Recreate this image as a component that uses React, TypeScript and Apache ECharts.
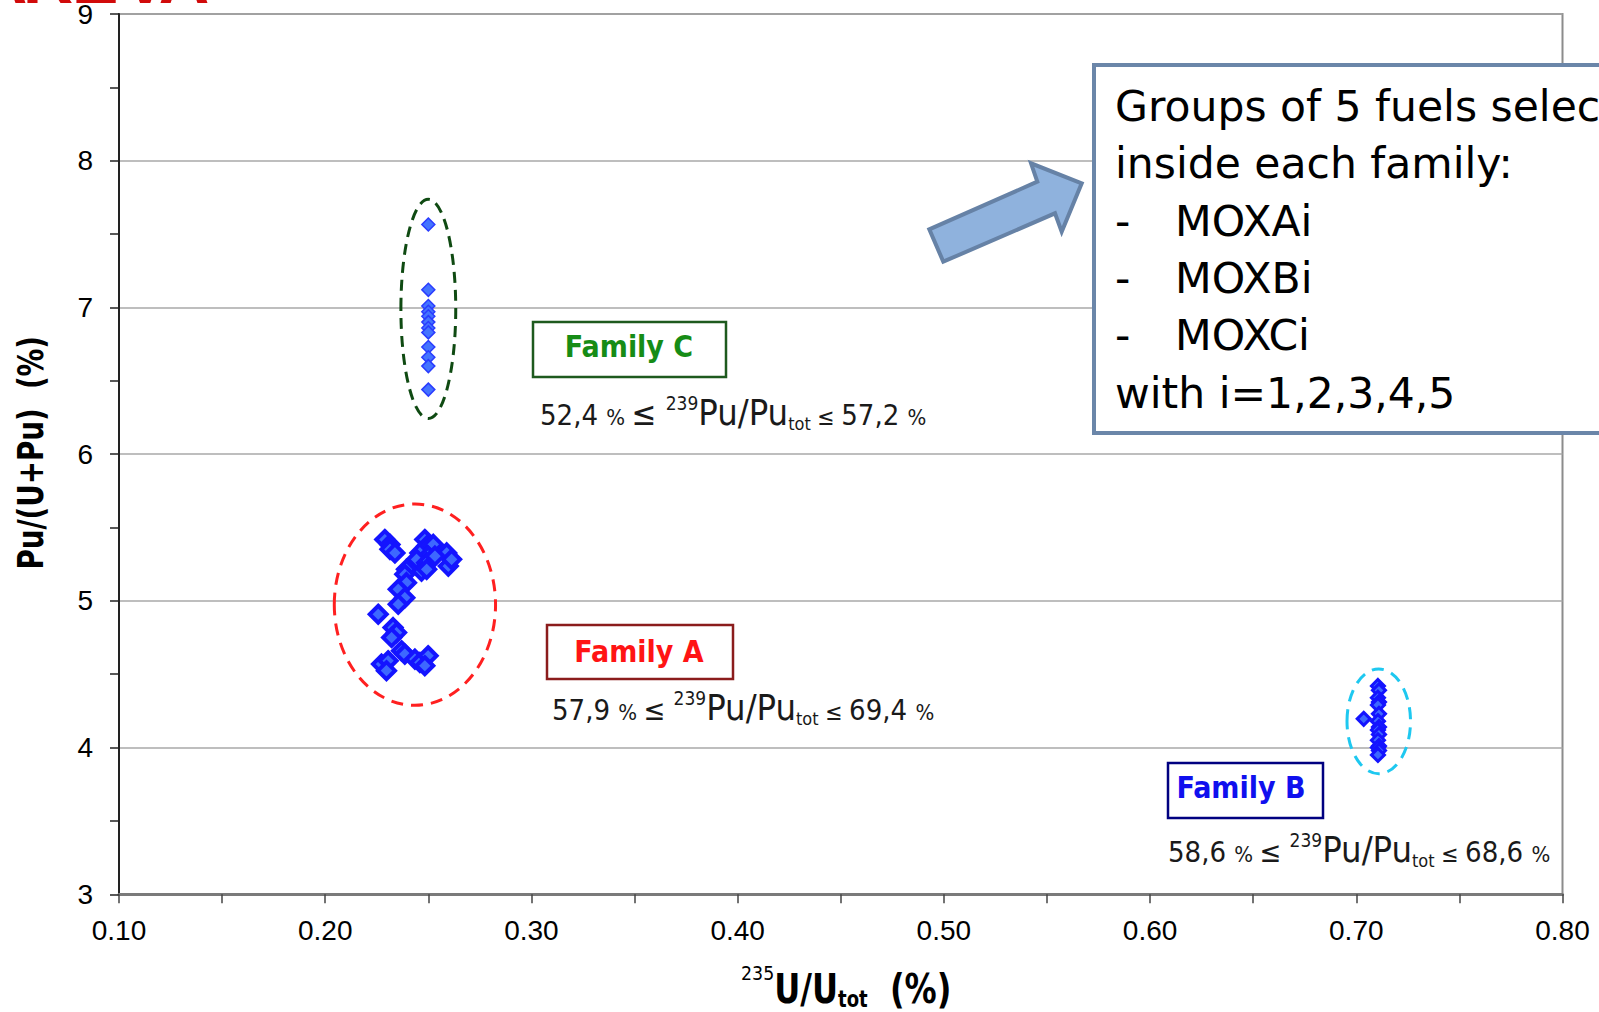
import React, { useEffect, useRef } from "react";
import * as echarts from "echarts";

// ---- data ----
const xTickLabels = ["0.10", "0.20", "0.30", "0.40", "0.50", "0.60", "0.70", "0.80"];
const yTickLabels = ["3", "4", "5", "6", "7", "8", "9"];

const familyA: number[][] = [
  [0.2289, 5.418], [0.2314, 5.385], [0.2314, 5.351], [0.2338, 5.327],
  [0.2483, 5.418], [0.2492, 5.373], [0.2459, 5.327], [0.2524, 5.385],
  [0.2499, 5.305], [0.2443, 5.283], [0.2492, 5.26], [0.2589, 5.327],
  [0.2597, 5.237], [0.2613, 5.283], [0.2467, 5.203], [0.2492, 5.215],
  [0.2532, 5.305], [0.2394, 5.215], [0.2386, 5.181], [0.2394, 5.124],
  [0.2354, 5.079], [0.2386, 5.022], [0.2354, 4.977], [0.2257, 4.909],
  [0.2329, 4.818], [0.2346, 4.784], [0.2322, 4.75], [0.237, 4.66],
  [0.2386, 4.637], [0.2435, 4.603], [0.2459, 4.58], [0.2499, 4.626],
  [0.2483, 4.558], [0.2273, 4.569], [0.2305, 4.592], [0.2297, 4.524],
];

const familyB: number[][] = [
  [0.7105, 4.42], [0.711, 4.39], [0.7105, 4.34], [0.711, 4.31], [0.7105, 4.29],
  [0.711, 4.23], [0.7105, 4.18], [0.711, 4.14], [0.7105, 4.12], [0.711, 4.09],
  [0.7105, 4.05], [0.711, 4.01], [0.7105, 4.0], [0.711, 3.98], [0.7105, 3.95],
  [0.7036, 4.196],
];

const familyC: number[][] = [
  [0.25, 7.565], [0.25, 7.12], [0.25, 7.01], [0.25, 6.97], [0.25, 6.94],
  [0.25, 6.9], [0.25, 6.86], [0.25, 6.83], [0.25, 6.73], [0.25, 6.66],
  [0.25, 6.6], [0.25, 6.44],
];

// ellipse: [centerX, centerY, radiusX, radiusY] in data units
const ellipseA = [0.2435, 4.974, 0.0391, 0.686];
const ellipseB = [0.7109, 4.179, 0.0154, 0.357];
const ellipseC = [0.25, 6.99, 0.0133, 0.747];

const boxLines = [
  "Groups of 5 fuels selected",
  "inside each family:",
  "MOXAi",
  "MOXBi",
  "MOXCi",
  "with i=1,2,3,4,5",
];

const formulaC = ["52,4", "57,2"];
const formulaA = ["57,9", "69,4"];
const formulaB = ["58,6", "68,6"];

const COND = '"DejaVu Sans Condensed", "DejaVu Sans", sans-serif';
const SANS = '"DejaVu Sans", sans-serif';
const ARIAL = '"Liberation Sans", Arial, sans-serif';

const PU = 36;

function pad(s: number, raise: number, ref: number) {
  const d = 2 * (0.346 * ref - 0.346 * s - raise);
  return d >= 0 ? [d, 0, 0, 0] : [0, 0, -d, 0];
}

function formulaRich(bigLe: number) {
  const base = { fontFamily: COND, fill: "#1a1a1a" };
  return {
    n: { ...base, fontSize: 29, padding: pad(29, 0, PU) },
    p: { ...base, fontSize: 22, padding: pad(22, 0, PU) },
    le1: { ...base, fontSize: bigLe, padding: pad(bigLe, 0, PU) },
    le2: { ...base, fontSize: 23, padding: pad(23, 0, PU) },
    sup: { ...base, fontSize: 19, padding: pad(19, 15, PU) },
    pu: { ...base, fontSize: PU, padding: [0, 0, 0, 0] },
    sub: { ...base, fontSize: 18, padding: pad(18, -5, PU) },
  };
}

function formulaText(vals: string[]) {
  return `{n|${vals[0]} }{p|% }{le1|≤ }{sup|239}{pu|Pu/Pu}{sub|tot}{le2| ≤ }{n|${vals[1]} }{p|%}`;
}

function ellipseSeries(vals: number[], color: string, dash: number[]) {
  return {
    type: "custom",
    coordinateSystem: "cartesian2d",
    silent: true,
    z: 1,
    data: [vals],
    renderItem: (params: any, api: any) => {
      const c = api.coord([api.value(0), api.value(1)]);
      const s = api.size([api.value(2), api.value(3)]);
      return {
        type: "ellipse",
        shape: { cx: c[0], cy: c[1], rx: s[0], ry: s[1] },
        style: { fill: "none", stroke: color, lineWidth: 3, lineDash: dash },
      };
    },
  };
}

function familyBox(x: number, y: number, w: number, h: number, tx: number, ty: number, label: string, border: string, color: string) {
  return {
    type: "group",
    z: 50,
    children: [
      { type: "rect", shape: { x, y, width: w, height: h }, style: { fill: "#fff", stroke: border, lineWidth: 2.5 } },
      {
        type: "text",
        x: tx,
        y: ty,
        style: { text: label, fontSize: 30, fontWeight: "bold", fontFamily: COND, fill: color, align: "center", verticalAlign: "middle" },
      },
    ],
  };
}

export default function App() {
  const ref = useRef<HTMLDivElement>(null);

  useEffect(() => {
    document.body.style.margin = "0";
    if (!ref.current) return;
    const chart = echarts.init(ref.current, undefined, { renderer: "svg" });

    const BOXF = 42.5;
    const boxBaselines = [121.7, 178.3, 236.7, 293.3, 350, 408.3];
    const boxTexts: any[] = boxLines.map((t, i) => {
      const isItem = i >= 2 && i <= 4;
      return {
        type: "text",
        x: isItem ? 1175 : 1115,
        y: boxBaselines[i] - 0.346 * BOXF,
        z: 61,
        style: { text: t, fontSize: BOXF, fontFamily: SANS, fill: "#000", align: "left", verticalAlign: "middle" },
      };
    });
    [2, 3, 4].forEach((i) => {
      boxTexts.push({
        type: "text",
        x: 1115,
        y: boxBaselines[i] - 0.346 * BOXF,
        z: 61,
        style: { text: "-", fontSize: BOXF, fontFamily: SANS, fill: "#000", align: "left", verticalAlign: "middle" },
      });
    });

    const logoLetters = ["A", "R", "E", "V", "A"];
    const logoX = [2, 48, 95, 145, 184];

    const XT = 41;
    const XB = 1003;

    const option: any = {
      animation: false,
      backgroundColor: "#fff",
      grid: {
        left: 119,
        top: 11,
        right: 36.5,
        bottom: 117.7,
        show: true,
        borderColor: "#8c8c8c",
        borderWidth: 2,
        backgroundColor: "#fff",
      },
      xAxis: {
        type: "value",
        min: 0.1,
        max: 0.8,
        interval: 0.1,
        axisLine: { show: true, onZero: false, lineStyle: { color: "#7a7a7a", width: 3 } },
        axisTick: { show: true, length: 9, lineStyle: { color: "#444", width: 1.5 } },
        minorTick: { show: true, splitNumber: 2, length: 9, lineStyle: { color: "#444", width: 1.5 } },
        splitLine: { show: false },
        axisLabel: {
          fontSize: 28,
          fontFamily: ARIAL,
          color: "#000",
          margin: 22,
          formatter: (v: number) => xTickLabels[Math.round((v - 0.1) / 0.1)] ?? "",
        },
      },
      yAxis: {
        type: "value",
        min: 3,
        max: 9,
        interval: 1,
        axisLine: { show: true, lineStyle: { color: "#222", width: 2 } },
        axisTick: { show: true, length: 9, lineStyle: { color: "#222", width: 1.5 } },
        minorTick: { show: true, splitNumber: 2, length: 9, lineStyle: { color: "#222", width: 1.5 } },
        splitLine: { show: true, lineStyle: { color: "#a8a8a8", width: 1.5 } },
        axisLabel: {
          fontSize: 28,
          fontFamily: ARIAL,
          color: "#000",
          margin: 26,
          formatter: (v: number) => yTickLabels[Math.round(v - 3)] ?? "",
        },
      },
      series: [
        ellipseSeries(ellipseA, "#ff2020", [12, 8]),
        ellipseSeries(ellipseB, "#1ec8f0", [12, 8]),
        ellipseSeries(ellipseC, "#0f4a12", [11, 7]),
        {
          type: "scatter",
          name: "Family A",
          data: familyA,
          symbol: "diamond",
          symbolSize: 17,
          z: 3,
          itemStyle: { color: "#3d68ff", borderColor: "#1414ff", borderWidth: 4, opacity: 1 },
        },
        {
          type: "scatter",
          name: "Family B",
          data: familyB,
          symbol: "diamond",
          symbolSize: 13,
          z: 3,
          itemStyle: { color: "#3d68ff", borderColor: "#1414ff", borderWidth: 3, opacity: 1 },
        },
        {
          type: "scatter",
          name: "Family C",
          data: familyC,
          symbol: "diamond",
          symbolSize: 13,
          z: 3,
          itemStyle: { color: "#4474ff", borderColor: "#2a3cff", borderWidth: 1.5, opacity: 1 },
        },
      ],
      graphic: [
        // logo (cut at the top edge)
        ...logoLetters.map((l, i) => ({
          type: "text",
          x: logoX[i],
          y: 3 - 0.346 * 70,
          z: 100,
          style: { text: l, fontSize: 70, fontWeight: "bold", fontFamily: ARIAL, fill: "#d10a0a", align: "center", verticalAlign: "middle" },
        })),
        // y-axis title
        {
          type: "text",
          x: 31,
          y: 452.8,
          rotation: Math.PI / 2,
          scaleX: 0.77,
          z: 60,
          style: { text: "Pu/(U+Pu)  (%)", fontSize: 36, fontWeight: "bold", fontFamily: SANS, fill: "#000", align: "center", verticalAlign: "middle" },
        },
        // x-axis title
        {
          type: "text",
          x: 741,
          y: XB - 0.346 * XT,
          scaleX: 0.87,
          z: 60,
          style: {
            text: "{sup|235}{u|U/U}{sub|tot}{u|  (%)}",
            align: "left",
            verticalAlign: "middle",
            rich: {
              sup: { fontSize: 20, fontFamily: SANS, fill: "#000", padding: pad(20, 23, XT) },
              u: { fontSize: XT, fontWeight: "bold", fontFamily: COND, fill: "#000", padding: [0, 0, 0, 0] },
              sub: { fontSize: 23, fontWeight: "bold", fontFamily: COND, fill: "#000", padding: pad(23, -4, XT) },
            },
          },
        },
        // family boxes
        familyBox(533, 322, 193, 55, 629, 346.3, "Family C", "#1e5a1e", "#168c16"),
        familyBox(547, 625, 186, 54, 639, 651.3, "Family A", "#8b1c1c", "#ff1414"),
        familyBox(1168, 763, 155, 55, 1241, 787.3, "Family B", "#000080", "#1010ee"),
        // formulas
        {
          type: "text",
          x: 540,
          y: 425 - 0.346 * PU,
          z: 55,
          style: { text: formulaText(formulaC), align: "left", verticalAlign: "middle", rich: formulaRich(33) },
        },
        {
          type: "text",
          x: 552,
          y: 720 - 0.346 * PU,
          z: 55,
          style: { text: formulaText(formulaA), align: "left", verticalAlign: "middle", rich: formulaRich(29) },
        },
        {
          type: "text",
          x: 1168,
          y: 862 - 0.346 * PU,
          z: 55,
          style: { text: formulaText(formulaB), align: "left", verticalAlign: "middle", rich: formulaRich(29) },
        },
        // arrow
        {
          type: "polygon",
          z: 58,
          shape: {
            points: [
              [943.3, 261.7], [929.3, 229.3], [1037.3, 181.7], [1031, 163.3],
              [1081.7, 183.3], [1061.7, 231.7], [1055, 213.3],
            ],
          },
          style: { fill: "#8fb2dd", stroke: "#6682a6", lineWidth: 4, lineJoin: "miter" },
        },
        // text box
        {
          type: "rect",
          z: 59,
          shape: { x: 1094, y: 65, width: 600, height: 368 },
          style: { fill: "#fff", stroke: "#6b86a9", lineWidth: 4 },
        },
        ...boxTexts,
      ],
    };

    chart.setOption(option);
    return () => chart.dispose();
  }, []);

  return <div ref={ref} style={{ width: 1599, height: 1012 }} />;
}
